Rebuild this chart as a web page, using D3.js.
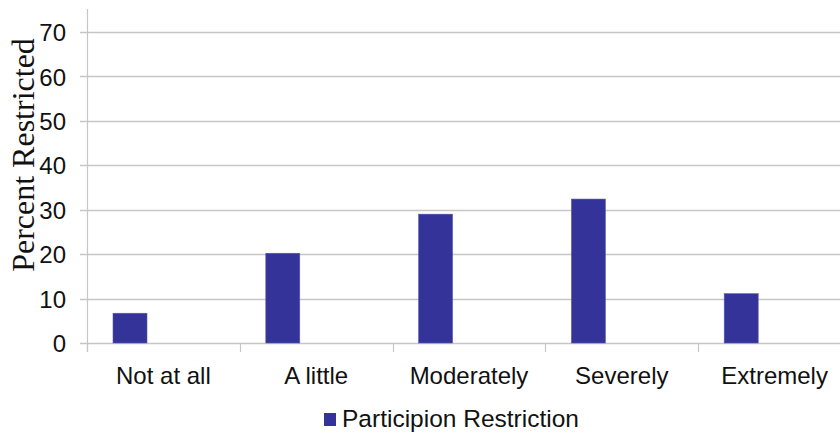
<!DOCTYPE html>
<html>
<head>
<meta charset="utf-8">
<script src="https://cdn.jsdelivr.net/npm/d3@7"></script>
<style>
  html, body { margin: 0; padding: 0; background: #fff; }
  svg { display: block; }
  text { font-family: "Liberation Sans", Arial, sans-serif; fill: #111; }
  text.ytitle { font-family: "Liberation Serif", "Times New Roman", serif; }
</style>
</head>
<body>
<svg id="chart" width="840" height="434"></svg>
<script>
// Share of respondents restricted, by level of participation restriction
const categories = ["Not at all", "A little", "Moderately", "Severely", "Extremely"];
const restrictionValues = [6.7, 20.2, 29.0, 32.4, 11.1];
const yTicks = [0, 10, 20, 30, 40, 50, 60, 70];
const seriesName = "Participion Restriction";
const yTitle = "Percent Restricted";

const svg = d3.select("#chart");
const W = 840, H = 434;
const margin = { left: 87, top: 32, bottom: 91 };
const plotRight = 851;           // last category band runs past the right edge

const x = d3.scaleBand()
  .domain(categories)
  .range([margin.left, plotRight])
  .paddingInner(0).paddingOuter(0);

const y = d3.scaleLinear()
  .domain([0, 70])
  .range([343, 32]);

const gridColor = "#c6c6c6";

// horizontal gridlines with short tick stubs to the left of the axis
const grid = svg.append("g");
grid.selectAll("line")
  .data(yTicks)
  .join("line")
  .attr("x1", 80).attr("x2", W)
  .attr("y1", d => Math.round(y(d)) + 0.5)
  .attr("y2", d => Math.round(y(d)) + 0.5)
  .attr("stroke", gridColor)
  .attr("stroke-width", 1.4);

// vertical value axis line
svg.append("line")
  .attr("x1", margin.left + 0.5).attr("x2", margin.left + 0.5)
  .attr("y1", 9).attr("y2", 352)
  .attr("stroke", gridColor)
  .attr("stroke-width", 1.2);

// y tick labels via d3 axis (domain/ticks hidden, labels only)
const yAxis = d3.axisLeft(y).tickValues(yTicks).tickSize(0).tickPadding(0);
const gy = svg.append("g")
  .attr("transform", "translate(66,0)")
  .call(yAxis);
gy.select(".domain").remove();
gy.selectAll("text")
  .style("font-family", "'Liberation Sans', Arial, sans-serif")
  .style("font-size", "24px")
  .style("fill", "#111")
  .attr("dy", "0.36em");

// category boundary ticks below the baseline
const boundaries = categories.map(c => x(c)).concat([x(categories[categories.length - 1]) + x.bandwidth()]);
svg.append("g").selectAll("line")
  .data(boundaries)
  .join("line")
  .attr("x1", d => Math.round(d) + 0.5).attr("x2", d => Math.round(d) + 0.5)
  .attr("y1", 343).attr("y2", 352)
  .attr("stroke", gridColor)
  .attr("stroke-width", 1.2);

// bars: one series in a three-slot cluster, so it sits left of the band centre
const barOffset = 26, barWidth = 34;
svg.append("g").selectAll("rect")
  .data(restrictionValues)
  .join("rect")
  .attr("x", (d, i) => x(categories[i]) + barOffset)
  .attr("y", d => y(d))
  .attr("width", barWidth)
  .attr("height", d => y(0) - y(d))
  .attr("fill", "#333399")
  .attr("stroke", "#5a5ab0")
  .attr("stroke-width", 0.6);

// category labels
svg.append("g").selectAll("text")
  .data(categories)
  .join("text")
  .attr("x", d => x(d) + x.bandwidth() / 2)
  .attr("y", 384)
  .attr("text-anchor", "middle")
  .attr("font-size", 24)
  .text(d => d);

// y axis title
svg.append("text")
  .attr("class", "ytitle")
  .attr("transform", "translate(34,155) rotate(-90)")
  .attr("text-anchor", "middle")
  .attr("font-size", 32)
  .text(yTitle);

// legend
const legend = svg.append("g");
legend.append("rect")
  .attr("x", 324).attr("y", 413)
  .attr("width", 12).attr("height", 13)
  .attr("fill", "#333399");
legend.append("text")
  .attr("x", 342).attr("y", 427)
  .attr("font-size", 24.5)
  .text(seriesName);
</script>
</body>
</html>
